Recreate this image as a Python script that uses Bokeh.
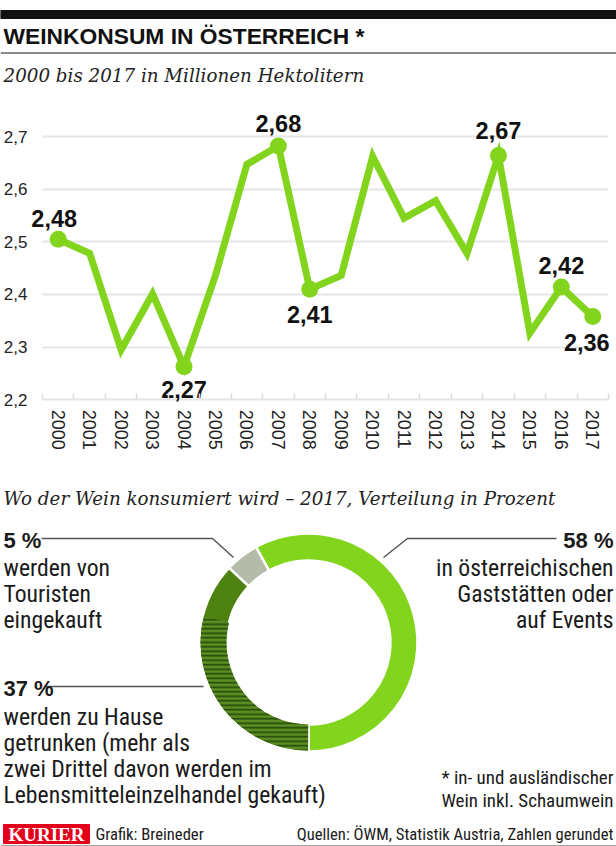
from bokeh.plotting import figure
from bokeh.models import (Range1d, FixedTicker, CustomJSTickFormatter, LinearAxis, Grid,
                          BasicTickFormatter)
from bokeh.core.properties import value
from bokeh.embed import file_html
from bokeh.resources import INLINE
import math

# ---------------- data ----------------
YEARS = [2000, 2001, 2002, 2003, 2004, 2005, 2006, 2007, 2008,
         2009, 2010, 2011, 2012, 2013, 2014, 2015, 2016, 2017]
CONSUMPTION = [2.505, 2.478, 2.295, 2.401, 2.263, 2.436, 2.647, 2.682, 2.410,
               2.436, 2.662, 2.545, 2.578, 2.478, 2.664, 2.327, 2.414, 2.358]
LABEL_YEARS = [2000, 2004, 2007, 2008, 2014, 2016, 2017]
LABEL_TEXTS = ["2,48", "2,27", "2,68", "2,41", "2,67", "2,42", "2,36"]
Y_TICKS = [2.2, 2.3, 2.4, 2.5, 2.6, 2.7]

SHARE_NAMES = ["Gastronomie/Events", "Touristen", "Zu Hause"]
SHARES = [58, 5, 37]
HOME_RETAIL_FRACTION = 0.78   # "mehr als zwei Drittel" of the 37 %

# ---------------- styles ----------------
W, H = 616, 846
GREEN = "#82d41d"
DARK_GREEN = "#4d8210"
HATCH_GREEN = "#25470a"
GREY_SEG = "#b4bca9"
TXT = "#1a1a1a"
COND = "Roboto Condensed, DejaVu Sans Condensed"
SANS = "Liberation Sans"
SERIF = "DejaVu Serif"

# pixel geometry of the line chart box
BOX_L, BOX_R = 42, 608          # x of the category edges
PY_TOP_TICK, PY_BOT_TICK = 136, 399.3   # page y of 2.7 and 2.2

# label offsets (screen px) for the value labels
LABEL_DX = [-4, 0, 0, 0, 0, 0, -6]
LABEL_DY = [-21, 23, -22, 25, -25, -22, 26]


def Y(py):
    return H - py


p = figure(width=W, height=H, x_range=Range1d(0, W), y_range=Range1d(0, H),
           x_axis_type=None, y_axis_type=None, toolbar_location=None,
           output_backend="svg", min_border=0)
p.outline_line_color = None
p.background_fill_color = "white"
p.border_fill_color = "white"


def txt(x, py, s, size, font=COND, style="normal", align="left", color=TXT):
    p.text(x=[x], y=[Y(py)], text=[s], text_font=value(font), text_font_size=f"{size}px",
           text_font_style=style, text_align=align, text_baseline="middle", text_color=color)


# ---------------- header ----------------
p.quad(left=[0], right=[W], top=[Y(10)], bottom=[Y(18)], color="#111111")
txt(3, 35, "WEINKONSUM IN ÖSTERREICH *", 22.8, font=SANS, style="bold", color="#111111")
p.line(x=[0, W], y=[Y(52.5), Y(52.5)], line_color="#8a8a8a", line_width=2)
txt(3, 75, "2000 bis 2017 in Millionen Hektolitern", 18.3, font=SERIF, style="italic",
    color="#222222")

# ---------------- line chart (extra ranges) ----------------
n_slots = len(YEARS)
px_per_year = (BOX_R - BOX_L) / n_slots
x0 = YEARS[0] - 0.5
p.extra_x_ranges = {"years": Range1d(x0 - BOX_L / px_per_year,
                                     YEARS[-1] + 0.5 + (W - BOX_R) / px_per_year)}
span = Y_TICKS[-1] - Y_TICKS[0]
px_per_unit = (PY_BOT_TICK - PY_TOP_TICK) / span
p.extra_y_ranges = {"cons": Range1d(Y_TICKS[0] - (H - PY_BOT_TICK) / px_per_unit,
                                    Y_TICKS[-1] + PY_TOP_TICK / px_per_unit)}

grid = Grid(dimension=1, ticker=FixedTicker(ticks=Y_TICKS), x_range_name="years",
            y_range_name="cons", cross_bounds=(x0, YEARS[-1] + 0.5),
            grid_line_color="#e6e6e6", grid_line_width=2)
p.add_layout(grid)

yax = LinearAxis(x_range_name="years", y_range_name="cons", fixed_location=x0,
                 ticker=FixedTicker(ticks=Y_TICKS),
                 formatter=CustomJSTickFormatter(code="return tick.toFixed(1).replace('.', ',');"))
yax.axis_line_color = None
yax.major_tick_line_color = None
yax.major_tick_out = 0
yax.major_tick_in = 0
yax.minor_tick_line_color = None
yax.major_label_standoff = 15
yax.major_label_text_font = SANS
yax.major_label_text_font_size = "17px"
yax.major_label_text_color = "#222222"
p.add_layout(yax, "left")

bounds = [y - 0.5 for y in YEARS] + [YEARS[-1] + 0.5]
xax = LinearAxis(x_range_name="years", y_range_name="cons", fixed_location=Y_TICKS[0],
                 ticker=FixedTicker(ticks=YEARS, minor_ticks=bounds),
                 formatter=BasicTickFormatter(use_scientific=False))
xax.axis_line_color = None
xax.major_tick_line_color = None
xax.major_tick_out = 0
xax.major_tick_in = 0
xax.minor_tick_in = 6
xax.minor_tick_out = 0
xax.minor_tick_line_color = "#dcdcdc"
xax.minor_tick_line_width = 1.5
xax.major_label_orientation = "vertical"
xax.major_label_standoff = 10
xax.major_label_text_font = SANS
xax.major_label_text_font_size = "18px"
xax.major_label_text_color = "#222222"
p.add_layout(xax, "below")

p.line(x=YEARS, y=CONSUMPTION, line_color=GREEN, line_width=7, line_join="miter",
       x_range_name="years", y_range_name="cons")
lab_y = [CONSUMPTION[YEARS.index(yr)] for yr in LABEL_YEARS]
p.scatter(x=LABEL_YEARS, y=lab_y, size=17, fill_color=GREEN, line_color=None,
          x_range_name="years", y_range_name="cons")
p.text(x=LABEL_YEARS, y=lab_y, text=LABEL_TEXTS, x_offset=LABEL_DX, y_offset=LABEL_DY,
       text_font=value(SANS), text_font_style="bold", text_font_size="23.5px",
       text_align="center", text_baseline="middle", text_color="#111111",
       x_range_name="years", y_range_name="cons")

# ---------------- donut ----------------
txt(3, 498, "Wo der Wein konsumiert wird – 2017, Verteilung in Prozent", 18.3,
    font=SERIF, style="italic", color="#222222")

cx, cy = 308, Y(642)
r_in, r_out = 82, 109
total = float(sum(SHARES))
starts, ends = [], []
a = -math.pi / 2
for s in SHARES:
    starts.append(a)
    a += s / total * 2 * math.pi
    ends.append(a)
p.annular_wedge(x=[cx] * 3, y=[cy] * 3, inner_radius=r_in, outer_radius=r_out,
                start_angle=starts, end_angle=ends, direction="anticlock",
                fill_color=[GREEN, GREY_SEG, DARK_GREEN], line_color="white", line_width=2.5)
hatch_start = ends[2] - HOME_RETAIL_FRACTION * (ends[2] - starts[2])
p.annular_wedge(x=[cx], y=[cy], inner_radius=r_in, outer_radius=r_out - 1,
                start_angle=[hatch_start], end_angle=[ends[2] - 0.004], direction="anticlock",
                fill_color="#5a8d22", line_color=None,
                hatch_pattern="horizontal_line", hatch_color=HATCH_GREEN,
                hatch_scale=4.5, hatch_weight=1.6)

LEADER = "#555555"
p.line(x=[41, 212, 233], y=[Y(538), Y(538), Y(557)], line_color=LEADER, line_width=1.5)
p.line(x=[556, 407, 383], y=[Y(538), Y(538), Y(557)], line_color=LEADER, line_width=1.5)
p.line(x=[45, 203], y=[Y(686), Y(686)], line_color=LEADER, line_width=1.5)

BODY = 23.7
txt(3, 540, "5 %", 22, font=SANS, style="bold")
for i, s in enumerate(["werden von", "Touristen", "eingekauft"]):
    txt(3, 567 + 26 * i, s, BODY)

txt(613, 540, "58 %", 22, font=SANS, style="bold", align="right")
for i, s in enumerate(["in österreichischen", "Gaststätten oder", "auf Events"]):
    txt(613, 567 + 26 * i, s, BODY, align="right")

txt(3, 688, "37 %", 22, font=SANS, style="bold")
for i, s in enumerate(["werden zu Hause", "getrunken (mehr als",
                       "zwei Drittel davon werden im", "Lebensmitteleinzelhandel gekauft)"]):
    txt(3, 716 + 26 * i, s, BODY)

txt(613, 777, "* in- und ausländischer", 19, align="right")
txt(613, 800, "Wein inkl. Schaumwein", 19, align="right")

# ---------------- footer ----------------
p.quad(left=[3], right=[89], top=[Y(824)], bottom=[Y(843)], color="#e2001a")
txt(46, 834, "KURIER", 19, font="Liberation Serif", style="bold", align="center", color="white")
txt(95, 834, "Grafik: Breineder", 16.6)
txt(613, 834, "Quellen: ÖWM, Statistik Austria, Zahlen gerundet", 16.6, align="right")
p.line(x=[0, W], y=[Y(845.5), Y(845.5)], line_color="#444444", line_width=1)

open("out.html", "w").write(file_html(p, INLINE))
